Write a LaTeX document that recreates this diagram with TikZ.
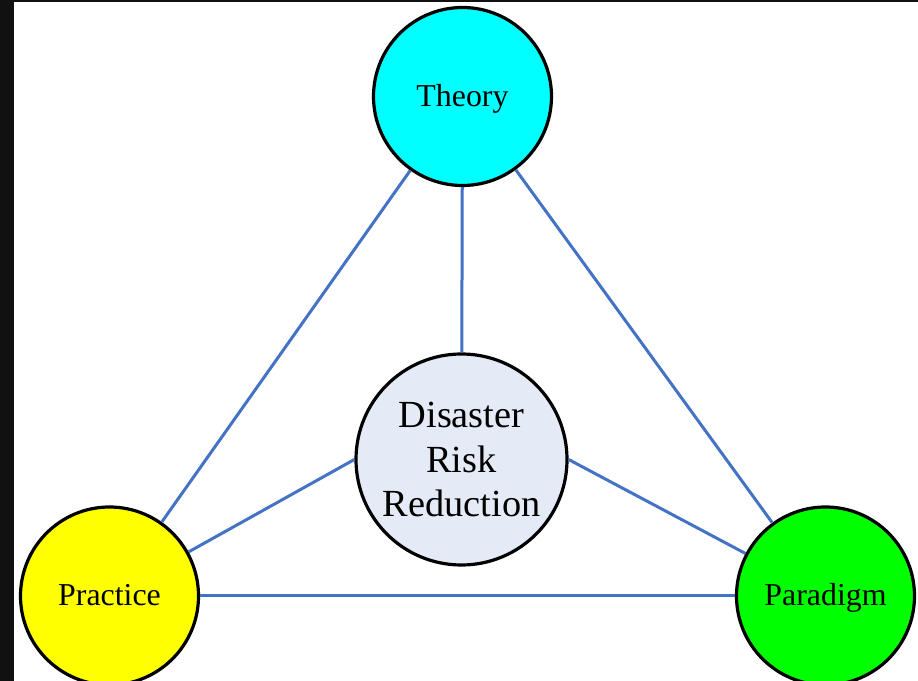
\documentclass[tikz,border=0pt]{standalone}
\usepackage{fontspec}
\setmainfont{Liberation Serif}
\definecolor{linkblue}{HTML}{4472C4}
\definecolor{drrfill}{HTML}{E5EBF6}
\definecolor{framedark}{HTML}{111111}
\definecolor{theorycyan}{HTML}{00FFFF}
\definecolor{practiceyellow}{HTML}{FFFF00}
\definecolor{paradigmgreen}{HTML}{00FF00}

\begin{document}
\begin{tikzpicture}[line join=bevel,
  pole/.style={circle,draw=black,line width=3.2bp,minimum size=178bp,inner sep=0pt,text height=26bp,text depth=6bp,font=\fontsize{32}{38}\selectfont},
  hub/.style={circle,draw=black,line width=3.2bp,minimum size=211bp,inner sep=0pt,fill=drrfill,align=center,font=\fontsize{38.5}{45}\selectfont},
  link/.style={linkblue,line width=3bp}]
%%
\useasboundingbox (0bp,0bp) rectangle (918bp,681bp);
\fill [framedark] (0bp,0bp) rectangle (918bp,681bp);
\fill [white] (14bp,0bp) rectangle (918bp,679bp);
%
\node (node_theory) at (462.5bp,584.5bp) [pole,fill=theorycyan] {Theory};
  \node (node_practice) at (109.5bp,85bp) [pole,fill=practiceyellow] {Practice};
  \node (node_paradigm) at (825.5bp,85bp) [pole,fill=paradigmgreen] {Paradigm};
  \node (node_drr) at (461.5bp,221.5bp) [hub] {Disaster\\Risk\\Reduction};
  \draw [link] (node_theory) -- (node_practice);
  \draw [link] (node_theory) -- (node_paradigm);
  \draw [link] (node_theory) -- (node_drr);
  \draw [link] (node_drr.west) -- (node_practice);
  \draw [link] (node_drr.east) -- (node_paradigm);
  \draw [link] (node_practice) -- (node_paradigm);
%
\end{tikzpicture}
\end{document}
